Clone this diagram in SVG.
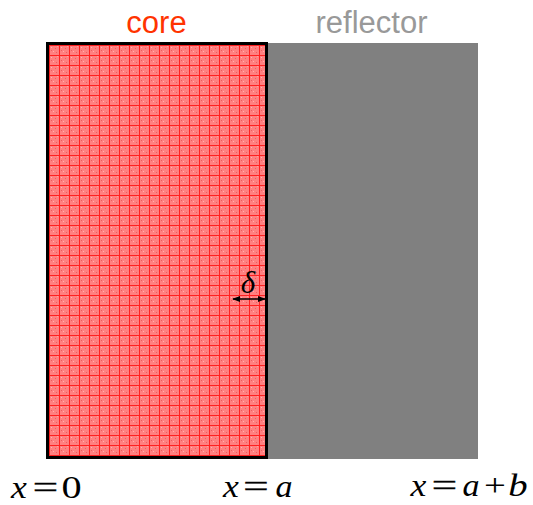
<svg xmlns="http://www.w3.org/2000/svg" width="533" height="505" viewBox="0 0 533 505">
<style>
.lbl{font-family:"Liberation Sans",Arial,sans-serif;font-size:31px;text-anchor:middle}
.m{font-family:"Liberation Serif","Times New Roman",serif;font-size:31px;text-anchor:middle;fill:#000}
.it{font-style:italic}
</style>
<defs>
<pattern id="grid" x="49" y="45" width="10" height="10" patternUnits="userSpaceOnUse">
<rect width="10" height="10" fill="#ff8080"/>
<rect x="2" y="2" width="1" height="1" fill="#ffb0b0"/>
<rect x="6" y="3" width="1" height="1" fill="#e86060"/>
<rect x="4" y="6" width="1" height="1" fill="#ffb0b0"/>
<rect x="7" y="7" width="1" height="1" fill="#e86060"/>
<rect x="2" y="5" width="1" height="1" fill="#e86060"/>
<rect x="8" y="1" width="1" height="1" fill="#ffa0a0"/>
<rect x="0" y="0" width="10" height="1" fill="#ff2020"/>
<rect x="0" y="0" width="1" height="10" fill="#ff2020"/>
</pattern>
<marker id="ah" viewBox="0 0 10 10" refX="9" refY="5" markerWidth="8" markerHeight="8" orient="auto-start-reverse" markerUnits="userSpaceOnUse">
<path d="M0,1 L10,5 L0,9 Z" fill="#000"/>
</marker>
</defs>
<g id="reflector">
<rect x="267" y="43" width="211" height="416" fill="#808080"/>
<text class="lbl" x="371.5" y="33" fill="#999999">reflector</text>
</g>
<g id="core">
<rect x="47.5" y="43.5" width="219" height="414" fill="url(#grid)" stroke="#000" stroke-width="3"/>
<text class="lbl" x="156.5" y="33" fill="#ff3300">core</text>
</g>
<g id="connectors">
<line x1="233" y1="299" x2="265" y2="299" stroke="#000" stroke-width="1.5" marker-start="url(#ah)" marker-end="url(#ah)"/>
</g>
<g id="delta">
<text class="m it" x="248" y="293" font-size="28">δ</text>
</g>
<g id="label-x0">
<text class="m it" transform="translate(19,498) scale(1.15,1)">x</text>
<text class="m" transform="translate(45.5,498) scale(1.45,1)" stroke="#000" stroke-width="0.4">=</text>
<text class="m" transform="translate(71.5,498) scale(1.3,1)">0</text>
</g>
<g id="label-xa">
<text class="m it" transform="translate(231,497) scale(1.15,1)">x</text>
<text class="m" transform="translate(256,497) scale(1.45,1)" stroke="#000" stroke-width="0.4">=</text>
<text class="m it" transform="translate(284,497) scale(1.1,1)">a</text>
</g>
<g id="label-xab">
<text class="m it" transform="translate(418.5,496) scale(1.15,1)">x</text>
<text class="m" transform="translate(444.5,496) scale(1.45,1)" stroke="#000" stroke-width="0.4">=</text>
<text class="m it" transform="translate(471,496) scale(1.1,1)">a</text>
<text class="m" transform="translate(495,496) scale(1.25,1)">+</text>
<text class="m it" transform="translate(518,496) scale(1.25,1)">b</text>
</g>
</svg>
